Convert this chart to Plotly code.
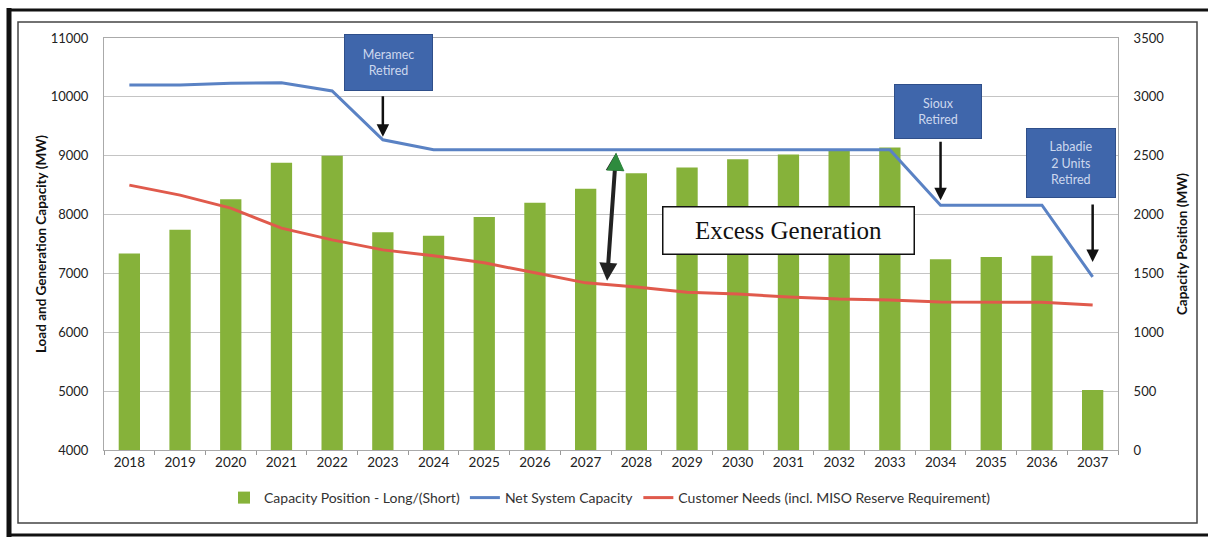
import plotly.graph_objects as go

years = list(range(2018, 2038))
capacity_position = [1670, 1870, 2130, 2440, 2500, 1850, 1820, 1980, 2100, 2220,
                     2350, 2400, 2470, 2510, 2540, 2570, 1620, 1640, 1650, 510]
net_system_capacity = [10200, 10200, 10230, 10240, 10100, 9270, 9100, 9100, 9100, 9100,
                       9100, 9100, 9100, 9100, 9100, 9100, 8160, 8160, 8160, 6940]
customer_needs = [8500, 8330, 8110, 7770, 7570, 7400, 7300, 7180, 7010, 6840,
                  6770, 6680, 6650, 6600, 6565, 6550, 6515, 6515, 6510, 6465]

left_ticks = [4000, 5000, 6000, 7000, 8000, 9000, 10000, 11000]
right_ticks = [0, 500, 1000, 1500, 2000, 2500, 3000, 3500]

W, H = 1208, 537
L, R, T, B = 104, 1118, 38, 450


def px(xp):
    return (xp - L) / (R - L)


def py(yp):
    return (B - yp) / (B - T)


fig = go.Figure()
fig.add_trace(go.Bar(x=years, y=capacity_position, name="Capacity Position - Long/(Short)",
                     marker=dict(color="#86b23a", line=dict(width=0)), width=0.42,
                     yaxis="y"))
fig.add_trace(go.Scatter(x=years, y=net_system_capacity, name="Net System Capacity",
                         mode="lines", line=dict(color="#5a82c4", width=3), yaxis="y2"))
fig.add_trace(go.Scatter(x=years, y=customer_needs,
                         name="Customer Needs (incl. MISO Reserve Requirement)",
                         mode="lines", line=dict(color="#e05a4c", width=3), yaxis="y2"))

tickfont = dict(family="Lato, Open Sans, sans-serif", size=13, color="#222")
xtickfont = dict(family="Lato, Open Sans, sans-serif", size=13.5, color="#222")

fig.update_layout(
    width=W, height=H,
    margin=dict(l=L, r=W - R, t=T, b=H - B),
    paper_bgcolor="white", plot_bgcolor="white",
    showlegend=True,
    legend=dict(orientation="h", x=px(610), xanchor="center", y=py(498), yanchor="middle",
                font=dict(family="Lato, sans-serif", size=14, color="#333"),
                traceorder="normal", itemwidth=30),
    xaxis=dict(range=[2017.5, 2037.5], tickmode="array", tickvals=years,
               ticktext=[str(y) for y in years], tickfont=xtickfont,
               showgrid=False, showline=True, linecolor="#aaa", linewidth=1, mirror=True,
               ticks="", zeroline=False,
               minor=dict(ticks="outside", tickmode="linear", tick0=2017.5, dtick=1,
                          ticklen=4, tickcolor="#999", showgrid=False)),
    yaxis=dict(range=[0, 3500], tickvals=right_ticks, side="right", tickfont=tickfont,
               showgrid=True, gridcolor="#c4c4c4", gridwidth=1, zeroline=False,
               showline=True, linecolor="#aaa", ticks="", ticklabelstandoff=12,
               title=dict(text="<b>Capacity Position (MW)</b>", standoff=14,
                          font=dict(family="Lato, sans-serif", size=13.5, color="#111"))),
    yaxis2=dict(range=[4000, 11000], tickvals=left_ticks, side="left", overlaying="y",
                tickfont=tickfont, showgrid=False, zeroline=False, showline=True,
                linecolor="#aaa", ticks="", ticklabelstandoff=12, tickformat="d",
                title=dict(text="<b>Load and Generation Capacity (MW)</b>", standoff=0,
                           font=dict(family="Lato, sans-serif", size=13.5, color="#111"))),
    bargap=0.5,
)

# outer frame
fig.add_shape(type="rect", xref="paper", yref="paper", x0=px(9), x1=px(1215), y0=py(535), y1=py(10),
              line=dict(color="#111", width=3), layer="above")
fig.add_shape(type="line", xref="paper", yref="paper", x0=px(9), x1=px(9), y0=py(537), y1=py(8),
              line=dict(color="#111", width=5), layer="above")
fig.add_shape(type="rect", xref="paper", yref="paper", x0=px(18), x1=px(1197), y0=py(523), y1=py(22),
              line=dict(color="#444", width=1.5), layer="above")

# retirement boxes
box_font = dict(family="Lato, Open Sans, sans-serif", size=12.5, color="#cdd8ee")
boxes = [
    ("Meramec<br>Retired", 388, 63, 89, 57),
    ("Sioux<br>Retired", 938, 111, 88, 55),
    ("Labadie<br>2 Units<br>Retired", 1071, 163, 90, 70),
]
for text, cx, cy, bw, bh in boxes:
    fig.add_annotation(xref="paper", yref="paper", x=px(cx), y=py(cy), text=text,
                       xanchor="center", yanchor="middle",
                       showarrow=False, bgcolor="#3f66ab", bordercolor="#2f4f8a",
                       borderwidth=1, width=bw - 4, height=bh - 4, font=box_font,
                       align="center", valign="middle")

# retirement arrows (ay offset in px, standoff in px)
arrows = [(2023, net_system_capacity[5], -45, 3), (2034, net_system_capacity[16], -65, 5),
          (2037, net_system_capacity[19], -74, 15)]
for xv, yv, ay, so in arrows:
    fig.add_annotation(x=xv, y=yv, xref="x", yref="y2", ax=0, ay=ay, showarrow=True,
                       arrowhead=2, arrowsize=1, arrowwidth=2.5, arrowcolor="#111",
                       standoff=so, text="")

# excess generation double arrow
fig.add_annotation(x=2027.6, y=9050, xref="x", yref="y2", axref="x", ayref="y2",
                   ax=2027.42, ay=6850, showarrow=True, arrowhead=2, startarrowhead=2,
                   arrowside="end+start", arrowsize=0.9, startarrowsize=0.9,
                   arrowwidth=4, arrowcolor="#222", text="")
fig.add_annotation(x=2027.6, y=9050, xref="x", yref="y2", ax=-0.5, ay=14, showarrow=True,
                   arrowhead=2, arrowsize=0.9, arrowwidth=4, arrowcolor="#2e8b3e", text="")

fig.add_annotation(xref="paper", yref="paper", x=px(788), y=py(230),
                   xanchor="center", yanchor="middle",
                   text="Excess Generation", showarrow=False, bgcolor="white",
                   bordercolor="#111", borderwidth=1.5, width=248, height=44,
                   font=dict(family="Liberation Serif, serif", size=25, color="#111"))

fig.write_html("out.html")
